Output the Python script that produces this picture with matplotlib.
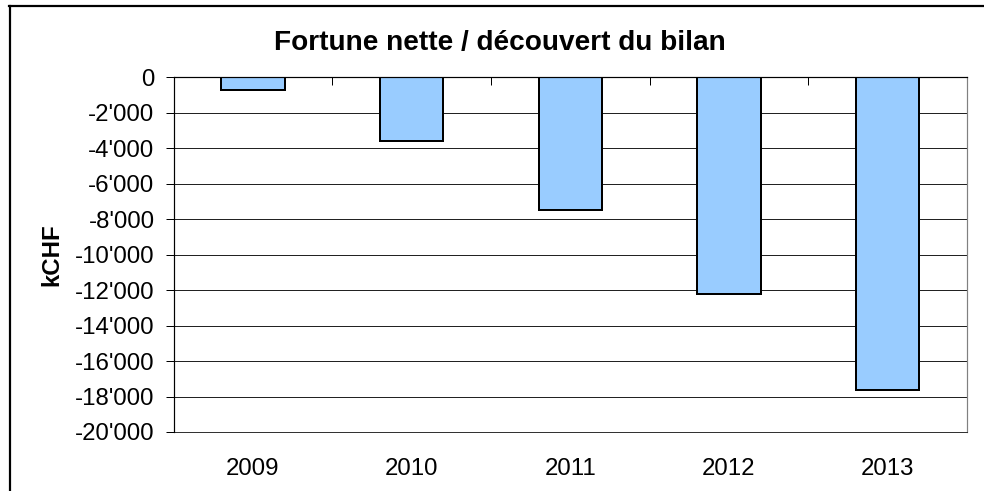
import matplotlib
matplotlib.use('Agg')
import matplotlib.pyplot as plt
from matplotlib.lines import Line2D
from matplotlib.ticker import FuncFormatter, FixedLocator

# data
years = ['2009', '2010', '2011', '2012', '2013']
fortune = [-730, -3600, -7500, -12230, -17650]
y_ticks = [0, -2000, -4000, -6000, -8000, -10000, -12000, -14000, -16000, -18000, -20000]

title = 'Fortune nette / découvert du bilan'
ylabel = 'kCHF'

W, H = 984, 491
plt.rcParams['font.family'] = ['Liberation Sans', 'DejaVu Sans']

def px(v):
	# pixels -> points at dpi 100
	return v * 0.72

def fmt_thousands(v, pos):
	s = '{:,.0f}'.format(v)
	return s.replace(',', "'")

fig = plt.figure(figsize=(W / 100, H / 100), dpi=100)
ax = fig.add_axes([173.5 / W, 1 - 432 / H, (967 - 173.5) / W, (432 - 77.3) / H])

x = list(range(len(years)))
ax.bar(x, fortune, width=0.4, color='#99CCFF', edgecolor='black', linewidth=px(2), zorder=3)

ax.set_xlim(-0.5, len(years) - 0.5)
ax.set_ylim(-20000, 0)
ax.set_yticks(y_ticks)
ax.yaxis.set_major_formatter(FuncFormatter(fmt_thousands))
ax.set_xticks(x)
ax.set_xticklabels(years)
ax.xaxis.set_minor_locator(FixedLocator([i + 0.5 for i in range(len(years) - 1)]))

ax.grid(axis='y', color='#222222', linewidth=px(1), zorder=1)
ax.tick_params(axis='y', direction='out', length=px(8), width=px(1), pad=px(11), labelsize=px(24), colors='black')
ax.tick_params(axis='x', which='major', length=0, pad=px(26), labelsize=px(24))
ax.tick_params(axis='x', which='minor', bottom=False, top=True, direction='in', length=px(8), width=px(1))

for side in ['top', 'left']:
	ax.spines[side].set_color('black')
	ax.spines[side].set_linewidth(px(1.2))
	ax.spines[side].set_zorder(4)
ax.spines['bottom'].set_color('#333333')
ax.spines['bottom'].set_linewidth(px(1))
ax.spines['right'].set_color('#808080')
ax.spines['right'].set_linewidth(px(1.2))

fig.text(499.5 / W, 1 - 50 / H, title, ha='center', va='baseline', fontsize=px(28), fontweight='bold')
fig.text(52 / W, 1 - 254.7 / H, ylabel, ha='center', va='center', rotation=90, fontsize=px(24), fontweight='bold')

# outer frame (only top and left are visible in the reference)
fig.add_artist(Line2D([9 / W, 1], [1 - 6 / H, 1 - 6 / H], transform=fig.transFigure, color='black', linewidth=px(2.2)))
fig.add_artist(Line2D([10 / W, 10 / W], [0, 1 - 6 / H], transform=fig.transFigure, color='black', linewidth=px(2.2)))

fig.savefig('out.png', dpi=100)
